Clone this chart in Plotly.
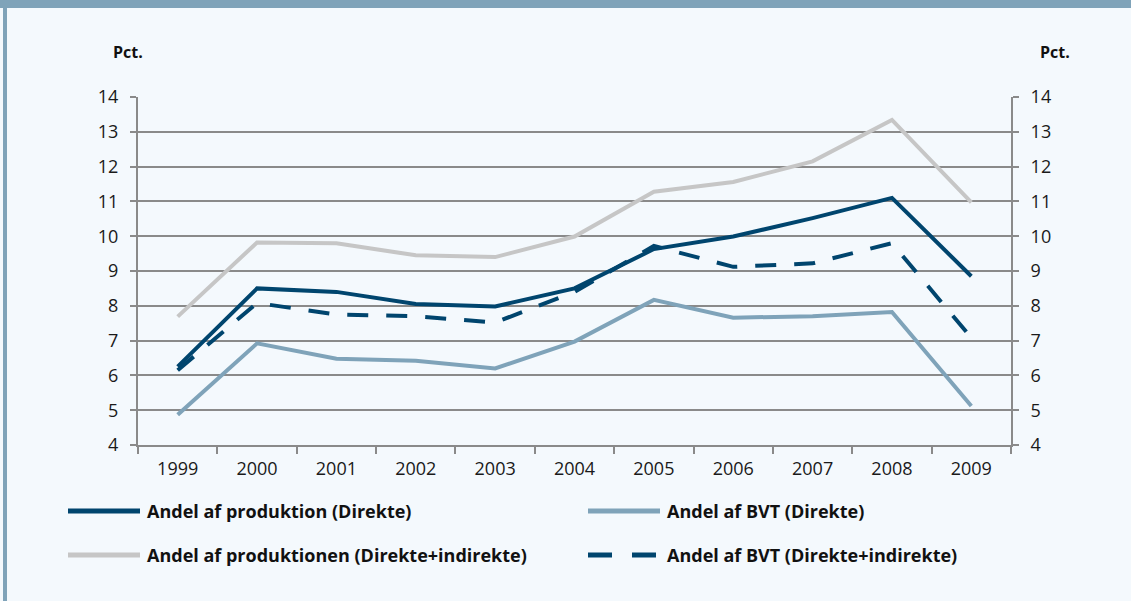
import plotly.graph_objects as go

years = ["1999", "2000", "2001", "2002", "2003", "2004", "2005", "2006", "2007", "2008", "2009"]

prod_direkte = [6.25, 8.5, 8.4, 8.05, 7.98, 8.5, 9.63, 9.99, 10.52, 11.1, 8.85]
bvt_direkte = [4.87, 6.92, 6.48, 6.42, 6.2, 6.97, 8.17, 7.66, 7.7, 7.82, 5.12]
prod_indirekte = [7.69, 9.82, 9.8, 9.45, 9.4, 9.99, 11.28, 11.56, 12.15, 13.34, 10.97]
bvt_indirekte = [6.15, 8.08, 7.75, 7.7, 7.52, 8.4, 9.72, 9.12, 9.22, 9.8, 7.08]

names = [
    "Andel af produktion (Direkte)",
    "Andel af BVT (Direkte)",
    "Andel af produktionen (Direkte+indirekte)",
    "Andel af BVT (Direkte+indirekte)",
]

NAVY = "#00456e"
LIGHT = "#7fa3b9"
GREY = "#c6c6c6"
BG = "#f4f9fd"
AXIS = "#8a8a8a"
FONT = "Open Sans"

W, H = 1131, 601
L, R, T, B = 138, 1011, 97, 445

series = [
    (prod_direkte, names[0], NAVY, "solid"),
    (bvt_direkte, names[1], LIGHT, "solid"),
    (prod_indirekte, names[2], GREY, "solid"),
    (bvt_indirekte, names[3], NAVY, "21px,18px"),
]

fig = go.Figure()
# draw order: grey, light, navy dashed, navy solid on top
for idx in [2, 1, 3, 0]:
    vals, name, color, dash = series[idx]
    fig.add_trace(go.Scatter(x=years, y=vals, mode="lines", name=name,
                             line=dict(color=color, width=4, dash=dash),
                             showlegend=False))
# ghost trace so the right axis is drawn
fig.add_trace(go.Scatter(x=years, y=prod_direkte, yaxis="y2", mode="lines",
                         line=dict(width=0, color="rgba(0,0,0,0)"),
                         showlegend=False, hoverinfo="skip"))


def px(x):
    return (x - L) / (R - L)


def py(y):
    return (B - y) / (B - T)


shapes = [
    # top banner and left border
    dict(type="rect", xref="paper", yref="paper", x0=px(0), x1=px(W), y0=py(8), y1=py(-5),
         fillcolor=LIGHT, line=dict(width=0), layer="above"),
    dict(type="rect", xref="paper", yref="paper", x0=px(3), x1=px(7), y0=py(W), y1=py(8),
         fillcolor=LIGHT, line=dict(width=0)),
]
annotations = [
    dict(text="<b>Pct.</b>", xref="paper", yref="paper", x=px(128), y=py(52),
         xanchor="center", yanchor="middle", showarrow=False,
         font=dict(family=FONT, size=16, color="#111")),
    dict(text="<b>Pct.</b>", xref="paper", yref="paper", x=px(1055), y=py(52),
         xanchor="center", yanchor="middle", showarrow=False,
         font=dict(family=FONT, size=16, color="#111")),
]

legend_pos = [(68, 511), (588, 511), (68, 555), (588, 555)]
for (vals, name, color, dash), (lx, ly) in zip(series, legend_pos):
    if dash == "solid":
        shapes.append(dict(type="line", xref="paper", yref="paper",
                           x0=px(lx), x1=px(lx + 72), y0=py(ly), y1=py(ly),
                           line=dict(color=color, width=5)))
    else:
        for sx in (lx, lx + 44):
            shapes.append(dict(type="line", xref="paper", yref="paper",
                               x0=px(sx), x1=px(sx + 24), y0=py(ly), y1=py(ly),
                               line=dict(color=color, width=5)))
    annotations.append(dict(text="<b>" + name + "</b>", xref="paper", yref="paper",
                            x=px(lx + 77), y=py(ly), xanchor="left", yanchor="middle",
                            showarrow=False, font=dict(family=FONT, size=18, color="#111")))

yax = dict(range=[4, 14], dtick=1, showline=True, linecolor=AXIS, linewidth=2,
           ticks="outside", ticklen=6, tickcolor=AXIS, tickwidth=2, ticklabelstandoff=8,
           tickfont=dict(family=FONT, size=18, color="#1a1a1a"), fixedrange=True)

fig.update_layout(
    width=W, height=H,
    margin=dict(l=L, r=W - R, t=T, b=H - B),
    paper_bgcolor=BG, plot_bgcolor=BG,
    showlegend=False,
    xaxis=dict(type="category", range=[-0.5, 10.5], tickson="boundaries", ticks="outside",
               ticklen=7, tickcolor=AXIS, tickwidth=2, showline=True, linecolor=AXIS,
               linewidth=2, showgrid=False, tickfont=dict(family=FONT, size=18, color="#1a1a1a"),
               ticklabelstandoff=6, fixedrange=True),
    yaxis=dict(**yax, showgrid=True, gridcolor=AXIS, gridwidth=2, zeroline=False),
    yaxis2=dict(**yax, overlaying="y", side="right", showgrid=False, zeroline=False),
    shapes=shapes,
    annotations=annotations,
)

fig.write_html("out.html", config={"displayModeBar": False},
               post_script="document.body.style.margin='0';")
